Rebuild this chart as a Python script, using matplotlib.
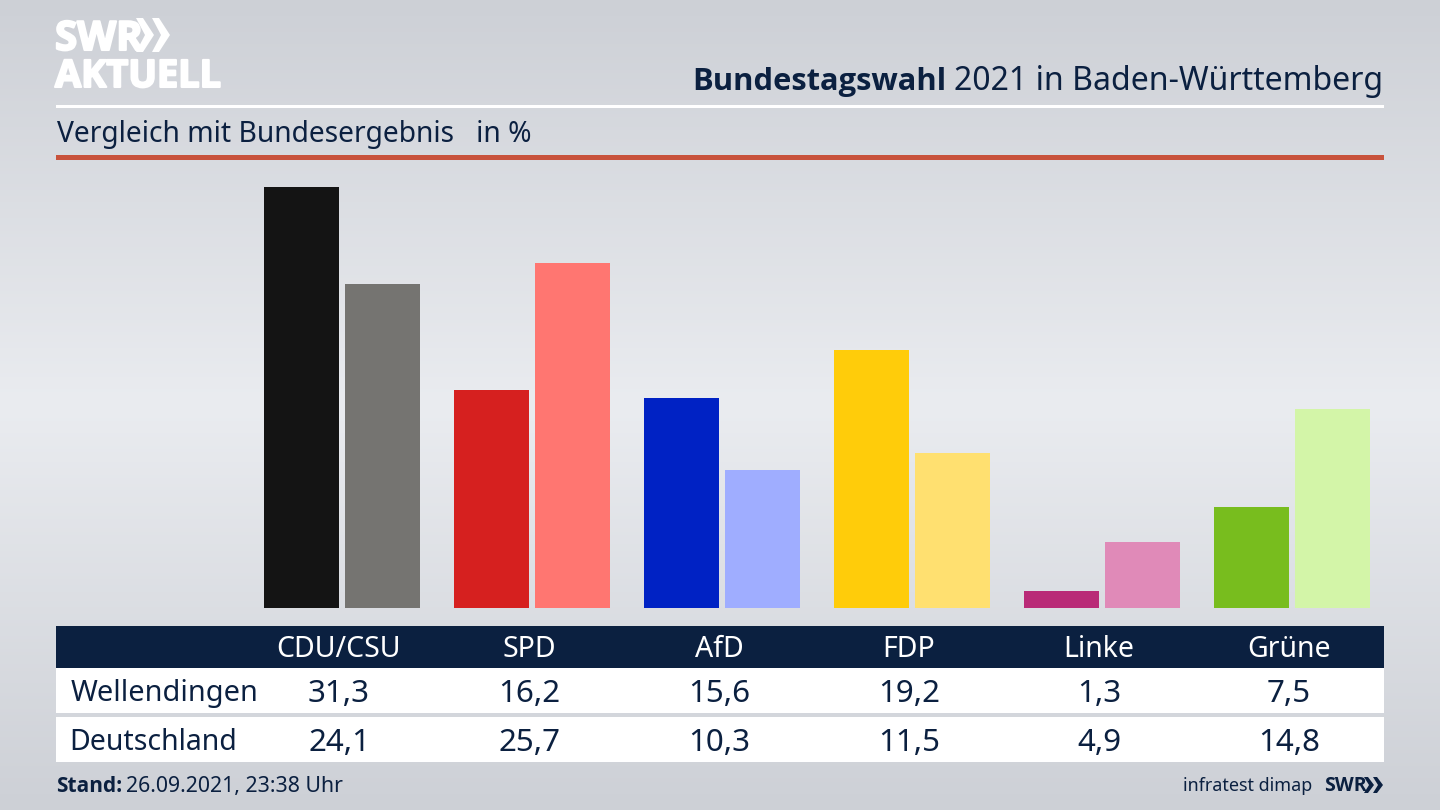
import matplotlib
matplotlib.use("Agg")
import matplotlib.pyplot as plt
import matplotlib.patheffects as pe
from matplotlib.patches import Rectangle, Polygon
import numpy as np

parties = ["CDU/CSU", "SPD", "AfD", "FDP", "Linke", "Grüne"]
wellendingen = [31.3, 16.2, 15.6, 19.2, 1.3, 7.5]
deutschland = [24.1, 25.7, 10.3, 11.5, 4.9, 14.8]
wellendingen_labels = ["31,3", "16,2", "15,6", "19,2", "1,3", "7,5"]
deutschland_labels = ["24,1", "25,7", "10,3", "11,5", "4,9", "14,8"]
colors_local = ["#141414", "#d6201f", "#0022c4", "#ffcc0a", "#b92a77", "#78bd1e"]
colors_national = ["#757471", "#ff7671", "#9fadff", "#ffe070", "#e08ab8", "#d3f5a8"]

NAVY = "#0b2040"
FONT = "Noto Sans"
BOLD = "Open Sans"

plt.rcParams["font.family"] = [FONT, "DejaVu Sans"]

W, H = 1440, 810
fig = plt.figure(figsize=(W / 100, H / 100), dpi=100)

# background, light band in the middle
bg = fig.add_axes([0, 0, 1, 1], zorder=0)
yy = np.linspace(0, 1, 256)
shade = np.interp(yy, [0, 0.5, 1], [0, 1, 0]).reshape(-1, 1, 1)
top = np.array([205, 208, 214]) / 255
mid = np.array([234, 236, 240]) / 255
bg.imshow(top + (mid - top) * shade, aspect="auto", extent=[0, W, H, 0])
bg.set_xlim(0, W)
bg.set_ylim(H, 0)
bg.axis("off")

# rules and table boxes in pixel coordinates
bg.add_patch(Rectangle((56, 104.5), 1328, 3, color="white", lw=0))
bg.add_patch(Rectangle((56, 155), 1328, 5, color="#c8523c", lw=0))
bg.add_patch(Rectangle((56, 626), 1328, 42, color=NAVY, lw=0))
bg.add_patch(Rectangle((56, 668), 1328, 45, color="white", lw=0))
bg.add_patch(Rectangle((56, 717), 1328, 45, color="white", lw=0))

# logo, stroke makes it heavier
heavy = [pe.withStroke(linewidth=1.5, foreground="white")]
bg.text(55, 50, "SWR", color="white", fontsize=29, fontweight="bold",
        va="baseline", ha="left", family=BOLD, path_effects=heavy)
bg.text(55, 87, "AKTUELL", color="white", fontsize=27.3, fontweight="bold",
        va="baseline", ha="left", family=BOLD, path_effects=heavy)
for x0 in (136, 152):
    bg.add_patch(Polygon([(x0, 18), (x0 + 7, 18), (x0 + 18, 35), (x0 + 7, 52), (x0, 52),
                          (x0 + 9, 35)], color="white", lw=0))

# heading
bg.text(692, 90, "Bundestagswahl", color=NAVY, fontsize=22.2, fontweight="bold",
        va="baseline", ha="left", family=BOLD)
bg.text(1383, 90, "2021 in Baden-Württemberg", color=NAVY, fontsize=23.05,
        va="baseline", ha="right")
bg.text(57, 142, "Vergleich mit Bundesergebnis   in %", color=NAVY, fontsize=20.3,
        va="baseline", ha="left")

# table text
for i, party in enumerate(parties):
    cx = 339 + 190 * i
    bg.text(cx, 657, party, color="white", fontsize=20.5, va="baseline", ha="center")
    bg.text(cx, 702, wellendingen_labels[i], color=NAVY, fontsize=22.5, va="baseline", ha="center")
    bg.text(cx, 751, deutschland_labels[i], color=NAVY, fontsize=22.5, va="baseline", ha="center")
bg.text(71, 701, "Wellendingen", color=NAVY, fontsize=20.8, va="baseline", ha="left")
bg.text(69.5, 750, "Deutschland", color=NAVY, fontsize=20.5, va="baseline", ha="left")

# footer
bg.text(56, 792, "Stand:", color=NAVY, fontsize=15, fontweight="bold", va="baseline", ha="left",
        family=BOLD)
bg.text(126, 792, "26.09.2021, 23:38 Uhr", color=NAVY, fontsize=15.3, va="baseline", ha="left")
bg.text(1312, 791, "infratest dimap", color=NAVY, fontsize=12.9, va="baseline", ha="right")
bg.text(1324, 791, "SWR", color=NAVY, fontsize=14, fontweight="bold", va="baseline", ha="left",
        family=BOLD)
for x0 in (1364, 1373):
    bg.add_patch(Polygon([(x0, 777), (x0 + 4, 777), (x0 + 10, 785), (x0 + 4, 793), (x0, 793),
                          (x0 + 5, 785)], color=NAVY, lw=0))

# bars
ax = fig.add_axes([247 / W, 1 - 608 / H, 1140 / W, 448 / H], zorder=1)
ax.patch.set_alpha(0)
x = np.arange(len(parties))
bar_w = 75 / 190
shift = 40.5 / 190
ax.bar(x - shift, wellendingen, width=bar_w, color=colors_local)
ax.bar(x + shift, deutschland, width=bar_w, color=colors_national)
ax.set_xlim(-0.5, 5.5)
ax.set_ylim(0, 448 / 13.44)
ax.axis("off")

fig.savefig("out.png", dpi=100)
